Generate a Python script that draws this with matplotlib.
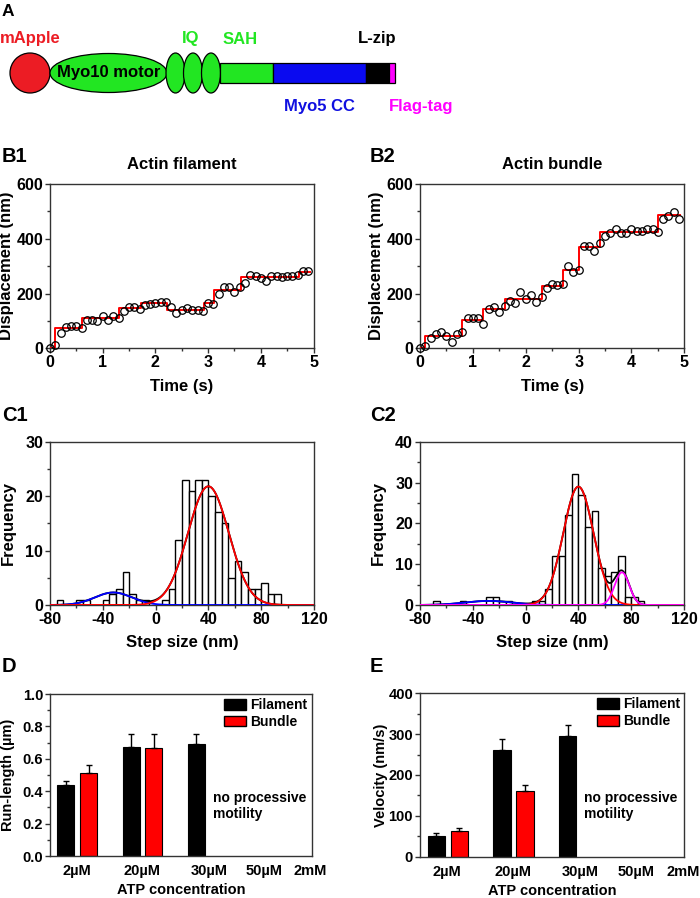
import numpy as np
import matplotlib
matplotlib.use('Agg')
import matplotlib.pyplot as plt
from matplotlib.patches import Circle, Ellipse, Rectangle, Patch
from matplotlib.ticker import MultipleLocator

plt.rcParams['font.family'] = ['Liberation Sans', 'DejaVu Sans']
plt.rcParams['font.weight'] = 'bold'
plt.rcParams['axes.labelweight'] = 'bold'
plt.rcParams['axes.titleweight'] = 'bold'
plt.rcParams['axes.unicode_minus'] = False

# ---- B: stepping traces (sampled every 0.1 s) ----
trace_time = [0.0, 0.1, 0.2, 0.3, 0.4, 0.5, 0.6, 0.7, 0.8, 0.9,
              1.0, 1.1, 1.2, 1.3, 1.4, 1.5, 1.6, 1.7, 1.8, 1.9,
              2.0, 2.1, 2.2, 2.3, 2.4, 2.5, 2.6, 2.7, 2.8, 2.9,
              3.0, 3.1, 3.2, 3.3, 3.4, 3.5, 3.6, 3.7, 3.8, 3.9,
              4.0, 4.1, 4.2, 4.3, 4.4, 4.5, 4.6, 4.7, 4.8, 4.9]
b1_disp = [0, 12, 57, 76, 82, 82, 74, 104, 104, 100,
           118, 104, 118, 112, 138, 149, 149, 145, 158, 161,
           165, 168, 168, 152, 128, 140, 146, 140, 140, 137,
           167, 161, 198, 223, 223, 205, 223, 240, 266, 265,
           258, 244, 263, 263, 261, 263, 263, 266, 283, 284]
b1_step_t = [0, 0.1, 0.6, 1.3, 1.72, 2.22, 2.92, 3.12, 3.62, 4.72, 4.93]
b1_step_y = [0, 73, 109, 146, 164, 140, 164, 213, 259, 280, 280]

b2_disp = [0, 9, 38, 51, 58, 45, 24, 54, 58, 112,
           110, 110, 89, 143, 152, 134, 155, 172, 166, 207,
           179, 193, 168, 186, 220, 234, 232, 234, 299, 277,
           287, 372, 372, 356, 383, 409, 420, 437, 421, 421,
           437, 429, 429, 435, 435, 423, 474, 482, 496, 474]
b2_step_t = [0, 0.1, 0.8, 1.2, 1.6, 2.3, 2.7, 3.0, 3.4, 4.5, 4.92]
b2_step_y = [0, 45, 102, 145, 180, 229, 286, 370, 426, 485, 485]

# ---- C: step-size histograms (5 nm bins, left edges) ----
c1_bin = [-75, -60, -55, -40, -35, -30, -25, -20, -15, -10, 5, 10, 15, 20, 25,
          30, 35, 40, 45, 50, 55, 60, 65, 70, 75, 80, 85, 90]
c1_count = [1, 1, 1, 1, 2, 3, 6, 2, 1, 1, 1, 3, 12, 23, 21,
            23, 23, 20, 17, 15, 5, 8, 6, 3, 3, 4, 2, 2]
c1_fit_center = [-32, 40]
c1_fit_height = [2.3, 21.8]
c1_fit_sigma = [14, 15.5]
c1_fit_color = ['#0000ff', '#ff0000']

c2_bin = [-70, -50, -30, -25, -20, -15, 5, 10, 15, 20, 25, 30, 35, 40, 45,
          50, 55, 60, 65, 70, 75, 80, 85]
c2_count = [1, 1, 2, 2, 1, 1, 1, 1, 4, 12, 12, 22, 32, 27, 19,
            23, 9, 7, 8, 12, 2, 2, 1]
c2_fit_center = [-28, 40, 73]
c2_fit_height = [1.0, 29, 8]
c2_fit_sigma = [18, 11.5, 5.5]
c2_fit_color = ['#0000ff', '#ff0000', '#ff00ff']

# ---- D/E: ATP dependence ----
atp_labels = ['2\u00b5M', '20\u00b5M', '30\u00b5M', '50\u00b5M', '2mM']
atp_label_pos = [0.17, 1.17, 2.19, 3.04, 3.75]
fil_pos = [0, 1, 2]
bun_pos = [0.35, 1.35]
run_fil = [0.438, 0.671, 0.689]
run_fil_err = [0.027, 0.080, 0.066]
run_bun = [0.514, 0.665]
run_bun_err = [0.048, 0.088]
vel_fil = [51, 261, 295]
vel_fil_err = [6, 26, 27]
vel_bun = [64, 161]
vel_bun_err = [6, 14]

W, H = 700, 898
fig = plt.figure(figsize=(W / 100, H / 100), dpi=100)


def px_axes(l, t, r, b):
    return fig.add_axes([l / W, 1 - b / H, (r - l) / W, (b - t) / H])


def style(ax, fs):
    for s in ax.spines.values():
        s.set_linewidth(1.0)
        s.set_color('#333333')
    ax.tick_params(which='both', direction='out', width=1.0, color='#333333',
                   labelsize=fs, pad=1.5)
    ax.tick_params(which='major', length=3.5)
    ax.tick_params(which='minor', length=2)


# ---- panel A: construct diagram ----
axa = fig.add_axes([0, 1 - 130 / H, 1, 130 / H])
axa.set_xlim(0, W)
axa.set_ylim(130, 0)
axa.axis('off')
green = '#22e622'
axa.add_patch(Circle((30, 73), 20, facecolor='#ec1c24', edgecolor='black', lw=0.9))
axa.add_patch(Ellipse((108.5, 73), 117, 39, facecolor=green, edgecolor='black', lw=0.9))
for cx in [175.5, 193, 211]:
    axa.add_patch(Ellipse((cx, 73), 19, 40, facecolor=green, edgecolor='black', lw=0.9))
for x0, x1, c in [(220, 273, green), (273, 366, '#0a0af0'), (366, 389, 'black'),
                  (389, 395, '#ff00ff')]:
    axa.add_patch(Rectangle((x0, 63), x1 - x0, 20, facecolor=c, edgecolor='black', lw=0.9))
tfs = 12
axa.text(30.5, 39, 'mApple', color='#ec1c24', fontsize=tfs, ha='center', va='center')
axa.text(108.5, 72, 'Myo10 motor', color='black', fontsize=tfs, ha='center', va='center')
axa.text(191, 39, 'IQ', color=green, fontsize=tfs, ha='center', va='center')
axa.text(240, 39, 'SAH', color=green, fontsize=tfs, ha='center', va='center')
axa.text(377.5, 39, 'L-zip', color='black', fontsize=tfs, ha='center', va='center')
axa.text(319, 106, 'Myo5 CC', color='#1010e0', fontsize=tfs, ha='center', va='center')
axa.text(389, 106, 'Flag-tag', color='#ff00ff', fontsize=tfs, ha='left', va='center')

# panel letters
for lab, x, y, fs in [('A', 2, 4, 12.5), ('B1', 2, 147, 14.5), ('B2', 370, 147, 14.5),
                      ('C1', 2, 406, 14.5), ('C2', 370, 406, 14.5),
                      ('D', 2, 657, 14.5), ('E', 370, 657, 14.5)]:
    fig.text(x / W, 1 - y / H, lab, fontsize=fs, ha='left', va='top')

# ---- panels B ----
for (l, r), disp, st, sy, title in [((50, 313.5), b1_disp, b1_step_t, b1_step_y, 'Actin filament'),
                                     ((420, 684.3), b2_disp, b2_step_t, b2_step_y, 'Actin bundle')]:
    ax = px_axes(l, 184, r, 348.3)
    ax.step(st, sy, where='post', color='#ff0000', lw=1.4, zorder=3)
    ax.plot(trace_time, disp, 'o', mfc='none', mec='black', ms=5.4, mew=0.9, zorder=4,
            clip_on=False)
    ax.set_xlim(0, 5)
    ax.set_ylim(0, 600)
    ax.set_xticks(range(6))
    ax.set_yticks([0, 200, 400, 600])
    ax.xaxis.set_minor_locator(MultipleLocator(0.5))
    ax.yaxis.set_minor_locator(MultipleLocator(100))
    style(ax, 11.5)
    ax.set_title(title, fontsize=12, pad=11)
    ax.set_xlabel('Time (s)', fontsize=12, labelpad=6)
    ax.set_ylabel('Displacement (nm)', fontsize=12, labelpad=2)

# ---- panels C ----
xs = np.linspace(-80, 120, 600)
for (l, r), bins, counts, cen, hgt, sig, cols, ymax in [
        ((50, 314), c1_bin, c1_count, c1_fit_center, c1_fit_height, c1_fit_sigma, c1_fit_color, 30),
        ((420, 684), c2_bin, c2_count, c2_fit_center, c2_fit_height, c2_fit_sigma, c2_fit_color, 40)]:
    ax = px_axes(l, 441.7, r, 605)
    ax.bar(bins, counts, width=5, align='edge', facecolor='white', edgecolor='black',
           lw=1.0, zorder=2)
    comps = [h * np.exp(-(xs - c) ** 2 / (2 * s ** 2)) for c, h, s in zip(cen, hgt, sig)]
    ax.plot(xs, np.sum(comps, axis=0), color='black', lw=1.3, zorder=3)
    for comp, col in zip(comps, cols):
        ax.plot(xs, comp, color=col, lw=1.3, zorder=4)
    ax.set_xlim(-80, 120)
    ax.set_ylim(0, ymax)
    ax.set_xticks([-80, -40, 0, 40, 80, 120])
    ax.set_yticks(range(0, ymax + 1, 10))
    ax.xaxis.set_minor_locator(MultipleLocator(20))
    ax.yaxis.set_minor_locator(MultipleLocator(5))
    style(ax, 11.5)
    ax.set_xlabel('Step size (nm)', fontsize=12, labelpad=6)
    ax.set_ylabel('Frequency', fontsize=12, labelpad=7)

# ---- panels D and E ----
for (l, t, r, b), fil, fil_err, bun, bun_err, ymax, ymaj, ymin, ylab, lpad in [
        ((50, 694, 311.7, 856), run_fil, run_fil_err, run_bun, run_bun_err, 1.0, 0.2, 0.1,
         'Run-length (\u00b5m)', 5),
        ((420, 693.3, 684.3, 856.7), vel_fil, vel_fil_err, vel_bun, vel_bun_err, 400, 100, 50,
         'Velocity (nm/s)', 0)]:
    ax = px_axes(l, t, r, b)
    ax.bar(fil_pos, fil, width=0.26, color='black', edgecolor='black', lw=0.8,
           yerr=[np.zeros(len(fil)), fil_err], capsize=2.5,
           error_kw=dict(ecolor='black', elinewidth=1.0, capthick=1.0))
    ax.bar(bun_pos, bun, width=0.26, color='#ff0000', edgecolor='black', lw=0.8,
           yerr=[np.zeros(len(bun)), bun_err], capsize=2.5,
           error_kw=dict(ecolor='black', elinewidth=1.0, capthick=1.0))
    ax.set_xlim(-0.245, 3.77)
    ax.set_ylim(0, ymax)
    ax.set_xticks(atp_label_pos)
    ax.set_xticklabels(atp_labels)
    ax.yaxis.set_major_locator(MultipleLocator(ymaj))
    ax.yaxis.set_minor_locator(MultipleLocator(ymin))
    style(ax, 10.5)
    ax.tick_params(axis='x', length=0, pad=6)
    if ymax == 1.0:
        ax.yaxis.set_major_formatter(plt.FormatStrFormatter('%.1f'))
    ax.set_xlabel('ATP concentration', fontsize=10.5, labelpad=3.5)
    ax.set_ylabel(ylab, fontsize=10.5, labelpad=lpad)
    ax.text(0.622, 0.40, 'no processive\nmotility', transform=ax.transAxes, fontsize=10,
            ha='left', va='top', linespacing=1.15)
    ax.legend([Patch(facecolor='black', edgecolor='black'),
               Patch(facecolor='#ff0000', edgecolor='black')],
              ['Filament', 'Bundle'], loc='upper right', frameon=False, fontsize=10,
              handlelength=1.6, handleheight=0.8, handletextpad=0.3, labelspacing=0.2,
              borderaxespad=0.1, borderpad=0.2)

fig.savefig('out.png', dpi=100)
